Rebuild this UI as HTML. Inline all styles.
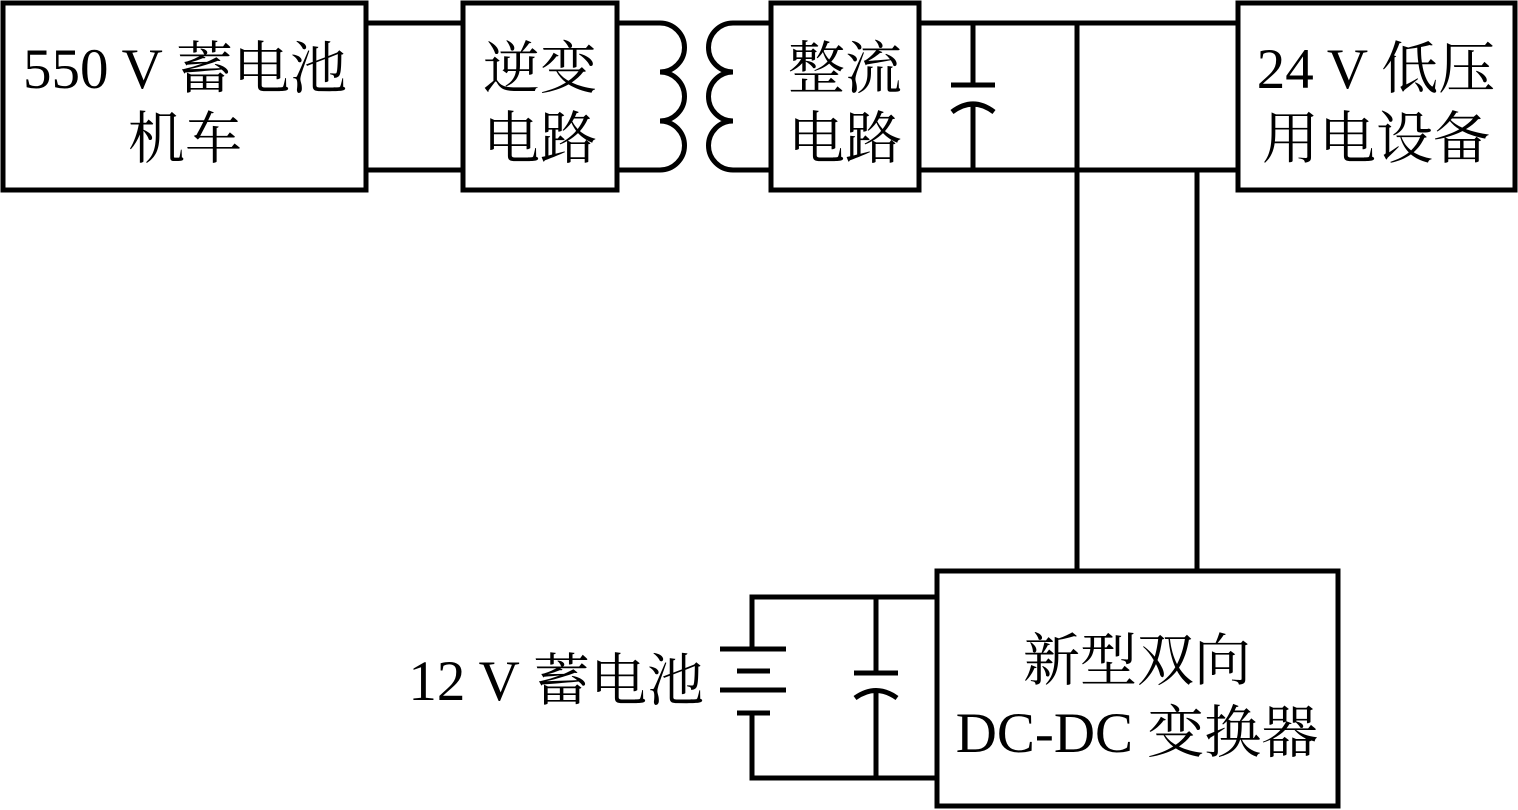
<!DOCTYPE html>
<html><head><meta charset="utf-8"><style>
body{margin:0;background:#fff;width:1518px;height:810px;overflow:hidden}
svg{position:absolute;left:0;top:0}
text{font-family:"Liberation Serif","Noto Serif CJK SC",serif;font-size:57px;fill:#000}
</style></head><body>
<svg width="1518" height="810" viewBox="0 0 1518 810">
<g fill="none" stroke="#000" stroke-width="5">
<rect x="3" y="3" width="363" height="187"/>
<rect x="463" y="3" width="154" height="187"/>
<rect x="771" y="3" width="148" height="187"/>
<rect x="1238" y="3" width="277" height="187"/>
<rect x="937" y="571" width="401" height="235"/>
<line x1="366" y1="23" x2="463" y2="23"/>
<line x1="366" y1="170" x2="463" y2="170"/>
<path d="M617 23 H660 A24 24 0 0 1 660 72 A24 24 0 0 1 660 121 A24 24 0 0 1 660 170 H617"/>
<path d="M771 23 H733 A24 24 0 0 0 733 72 A24 24 0 0 0 733 121 A24 24 0 0 0 733 170 H771"/>
<line x1="919" y1="23" x2="1238" y2="23"/>
<line x1="919" y1="170" x2="1238" y2="170"/>
<line x1="973" y1="23" x2="973" y2="85"/>
<line x1="951" y1="85" x2="995" y2="85"/>
<path d="M952 112 Q973 96 994 112"/>
<line x1="973" y1="104" x2="973" y2="170"/>
<line x1="1077" y1="23" x2="1077" y2="571"/>
<line x1="1197" y1="170" x2="1197" y2="571"/>
<path d="M937 597 H752 V649 M752 713 V778 H937"/>
<line x1="720" y1="649" x2="786" y2="649"/>
<line x1="737" y1="671" x2="770" y2="671"/>
<line x1="720" y1="690" x2="786" y2="690"/>
<line x1="737" y1="713" x2="770" y2="713"/>
<line x1="876" y1="597" x2="876" y2="673"/>
<line x1="854" y1="673" x2="898" y2="673"/>
<path d="M855 698 Q876 683 897 698"/>
<line x1="876" y1="690" x2="876" y2="778"/>
</g>
<text x="185" y="88" text-anchor="middle">550 V 蓄电池</text>
<text x="185" y="158" text-anchor="middle">机车</text>
<text x="540" y="88" text-anchor="middle">逆变</text>
<text x="540" y="158" text-anchor="middle">电路</text>
<text x="845" y="88" text-anchor="middle">整流</text>
<text x="845" y="158" text-anchor="middle">电路</text>
<text x="1376" y="88" text-anchor="middle">24 V 低压</text>
<text x="1376" y="158" text-anchor="middle">用电设备</text>
<text x="1137" y="680" text-anchor="middle">新型双向</text>
<text x="1137" y="752" text-anchor="middle">DC-DC 变换器</text>
<text x="704" y="700" text-anchor="end">12 V 蓄电池</text>
</svg>
</body></html>
